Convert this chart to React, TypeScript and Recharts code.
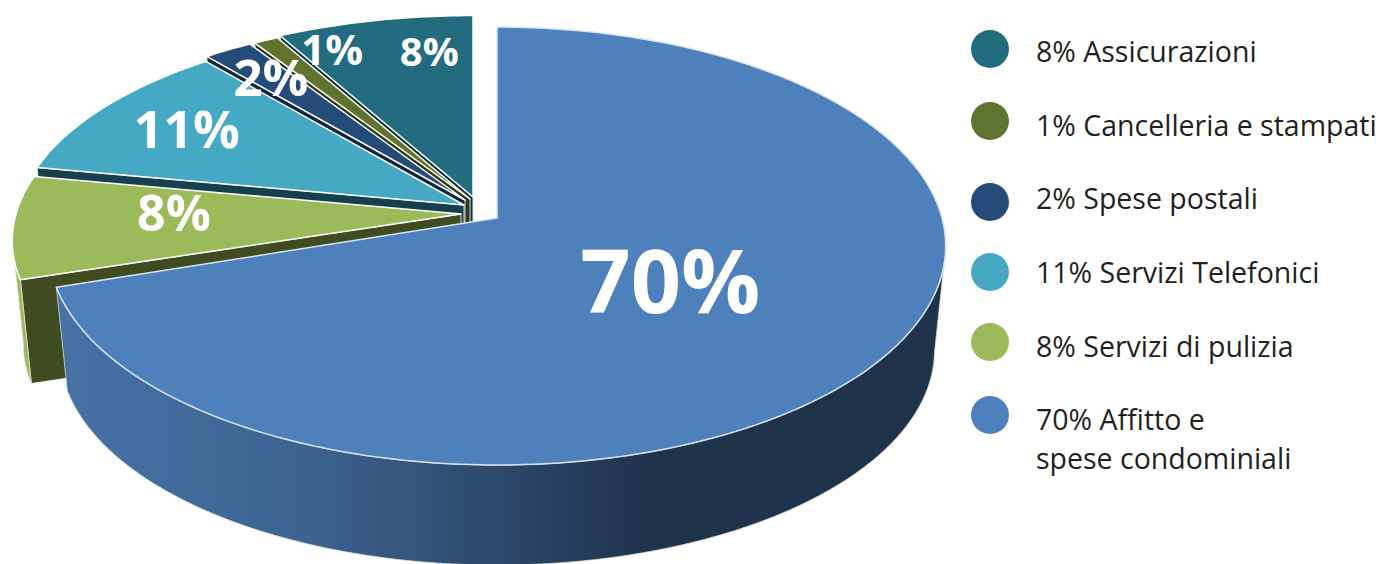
import React from 'react';
import { PieChart, Pie, Legend } from 'recharts';

const WIDTH = 1382;
const HEIGHT = 564;

// Legend order, which is also the counter-clockwise order starting at 12 o'clock
const categories = [
  'Assicurazioni',
  'Cancelleria e stampati',
  'Spese postali',
  'Servizi Telefonici',
  'Servizi di pulizia',
  'Affitto e\nspese condominiali',
];
const shares = [8, 1, 2, 11, 8, 70];

const topColors = ['#236b7e', '#61742f', '#254c78', '#45a9c4', '#9bba59', '#4e80bc'];
const faceColors = ['#12343f', '#2f3917', '#13263d', '#17404f', '#404b22', '#1f334b'];
const wallColors = ['#1d5566', '#4c5b25', '#1d3c5f', '#37879d', '#9bba59', 'url(#rimGradient)'];

// Exploded slices: offset from the pie centre and vertical squash
const sliceDx = [-24, -27, -32, -33, -36, 0];
const sliceDy = [-21, -19, -18, -13, -4, 0];
const sliceTilt = [0.46, 0.46, 0.46, 0.46, 0.46, 0.484];

const labelRadius = [0.83, 0.95, 0.81, 0.76, 0.63, 0.44];
const labelDx = [38, 56, -2, -4, -5, 2];
const labelDy = [0, 0, -2, -3, -10, 1];
const labelSizes = [40, 42, 51, 52, 50, 88];

// Text rows sit on an even pitch, the dots drift a little around them
const legendDotShift = [-3, -5, 3, -1, -5, -5];

const PERSPECTIVE = 0.128;
const DEPTH = 105;
const RIM_SHRINK_X = 0.975;
const RIM_SHRINK_Y = 0.98;
const WALL_FROM = 187;
const WALL_TO = 352;

const FONT = '"Open Sans", sans-serif';

const pieData = categories.map((name, i) => ({
  name,
  value: shares[i],
  fill: topColors[i],
}));

// Perspective view of a point on the disc rim
const rimPoint = (cx: number, cy: number, r: number, tilt: number, deg: number) => {
  const rad = (deg * Math.PI) / 180;
  const u = Math.cos(rad);
  const v = -Math.sin(rad);
  const d = 1 - PERSPECTIVE * v;
  return { x: cx + (r * u) / d, y: cy + (r * tilt * v) / d };
};

const lowerPoint = (cx: number, cy: number, p: { x: number; y: number }) => ({
  x: cx + (p.x - cx) * RIM_SHRINK_X,
  y: cy + (p.y - cy) * RIM_SHRINK_Y + DEPTH,
});

const toPath = (pts: { x: number; y: number }[]) =>
  pts.map((p, i) => `${i ? 'L' : 'M'}${p.x.toFixed(2)},${p.y.toFixed(2)}`).join(' ') + ' Z';

const sampleArc = (cx: number, cy: number, r: number, tilt: number, a0: number, a1: number) => {
  const pts = [];
  const steps = Math.max(2, Math.ceil(Math.abs(a1 - a0)));
  for (let s = 0; s <= steps; s++) {
    pts.push(rimPoint(cx, cy, r, tilt, a0 + ((a1 - a0) * s) / steps));
  }
  return pts;
};

const SliceShape = (props: any) => {
  const { cx, cy, outerRadius, startAngle, endAngle, fill, name } = props;
  const i = categories.indexOf(name);
  const x0 = cx + sliceDx[i];
  const y0 = cy + sliceDy[i];
  const tilt = sliceTilt[i];
  const apex = { x: x0, y: y0 };

  const top = sampleArc(x0, y0, outerRadius, tilt, startAngle, endAngle);

  // Cut face along the trailing edge, mostly hidden by the next slice
  const edge = rimPoint(x0, y0, outerRadius, tilt, endAngle);
  const face = [apex, edge, lowerPoint(x0, y0, edge), lowerPoint(x0, y0, apex)];

  const wallStart = Math.max(startAngle, WALL_FROM);
  const wallEnd = Math.min(endAngle, WALL_TO);
  const wallTop = wallStart < wallEnd ? sampleArc(x0, y0, outerRadius, tilt, wallStart, wallEnd) : [];
  const wall = [...wallTop, ...[...wallTop].reverse().map((p) => lowerPoint(x0, y0, p))];

  return (
    <g>
      {i < 5 && <path d={toPath(face)} fill={faceColors[i]} stroke="#ffffff" strokeWidth={0.8} />}
      {wall.length > 0 && <path d={toPath(wall)} fill={wallColors[i]} stroke="#d9d9d9" strokeWidth={0.8} />}
      <path
        d={toPath([apex, ...top])}
        fill={fill}
        stroke={i === 5 ? '#dbe5f1' : '#ffffff'}
        strokeWidth={1.5}
        strokeLinejoin="round"
      />
    </g>
  );
};

const SliceLabel = (props: any) => {
  const { cx, cy, outerRadius, midAngle, name, value } = props;
  const i = categories.indexOf(name);
  const x0 = cx + sliceDx[i];
  const y0 = cy + sliceDy[i];
  const p = rimPoint(x0, y0, outerRadius, sliceTilt[i], midAngle);
  return (
    <text
      x={x0 + (p.x - x0) * labelRadius[i] + labelDx[i]}
      y={y0 + (p.y - y0) * labelRadius[i] + labelDy[i]}
      fill="#ffffff"
      fontFamily={FONT}
      fontWeight={700}
      fontSize={labelSizes[i]}
      textAnchor="middle"
      dominantBaseline="central"
    >
      {value}%
    </text>
  );
};

const LegendRows = ({ payload }: any) => (
  <div style={{ fontFamily: FONT, fontSize: 28.5, color: '#231f20', lineHeight: '39px' }}>
    {(payload || []).map((entry: any) => {
      const i = categories.indexOf(entry.value);
      return (
        <div key={entry.value} style={{ position: 'relative', height: 73.7, paddingLeft: 65, whiteSpace: 'pre-line' }}>
          <span
            style={{
              position: 'absolute',
              left: 0,
              top: 1 + legendDotShift[i],
              width: 38,
              height: 38,
              borderRadius: '50%',
              background: topColors[i],
            }}
          />
          {`${shares[i]}% ${entry.value}`}
        </div>
      );
    })}
  </div>
);

export default function App() {
  return (
    <div style={{ position: 'absolute', left: 0, top: 0, width: WIDTH, height: HEIGHT, overflow: 'hidden', background: '#ffffff' }}>
      <PieChart width={WIDTH} height={HEIGHT} margin={{ top: 0, right: 0, bottom: 0, left: 0 }}>
        <defs>
          <linearGradient id="rimGradient" gradientUnits="userSpaceOnUse" x1="60" y1="0" x2="700" y2="0">
            <stop offset="0" stopColor="#4672a6" />
            <stop offset="0.38" stopColor="#3d6491" />
            <stop offset="0.72" stopColor="#2a4566" />
            <stop offset="0.92" stopColor="#1f334b" />
            <stop offset="1" stopColor="#1f334b" />
          </linearGradient>
        </defs>
        <Pie
          data={pieData}
          dataKey="value"
          nameKey="name"
          cx={497}
          cy={218}
          innerRadius={0}
          outerRadius={445}
          startAngle={90}
          endAngle={450}
          stroke="none"
          shape={SliceShape}
          label={SliceLabel}
          labelLine={false}
          isAnimationActive={false}
        />
        <Legend
          layout="vertical"
          align="right"
          verticalAlign="top"
          itemSorter={null}
          content={LegendRows}
          wrapperStyle={{ left: 971, top: 32, right: 'auto', width: 411 }}
        />
      </PieChart>
    </div>
  );
}
